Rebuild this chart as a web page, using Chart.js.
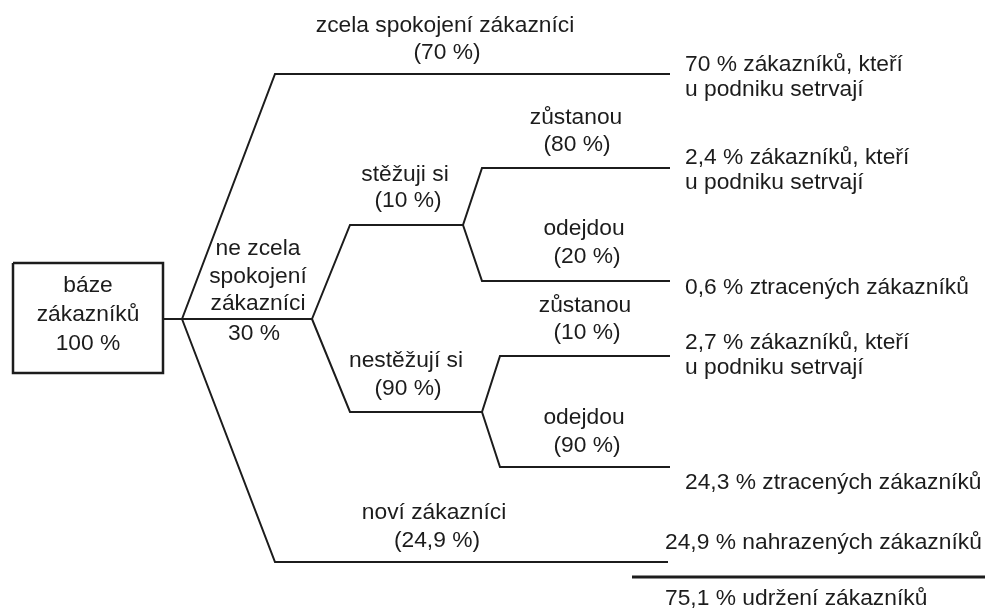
<!DOCTYPE html>
<html>
<head>
  <meta charset="utf-8" />
  <title>Báze zákazníků</title>
  <script src="https://cdn.jsdelivr.net/npm/chart.js@4/dist/chart.umd.min.js"></script>
  <style>
    body { margin: 0; background: #ffffff; }
    #wrap { width: 985px; height: 610px; position: relative; }
  </style>
</head>
<body>
  <div id="wrap"><canvas id="tree"></canvas></div>
  <script>
    // tree content
    const rootName = ['báze', 'zákazníků'];
    const rootShare = '100 %';
    const branchNames = [
      ['zcela spokojení zákazníci'],
      ['ne zcela', 'spokojení', 'zákazníci'],
      ['noví zákazníci'],
      ['stěžuji si'],
      ['nestěžují si'],
      ['zůstanou'],
      ['odejdou'],
      ['zůstanou'],
      ['odejdou']
    ];
    const branchShares = ['(70 %)', '30 %', '(24,9 %)', '(10 %)', '(90 %)', '(80 %)', '(20 %)', '(10 %)', '(90 %)'];
    const branchParents = [-1, -1, -1, 1, 1, 3, 3, 4, 4];   // -1 = báze
    const leafBranches = [0, 2, 5, 6, 7, 8];
    const outcomeTexts = [
      ['70 % zákazníků, kteří', 'u podniku setrvají'],
      ['24,9 % nahrazených zákazníků'],
      ['2,4 % zákazníků, kteří', 'u podniku setrvají'],
      ['0,6 % ztracených zákazníků'],
      ['2,7 % zákazníků, kteří', 'u podniku setrvají'],
      ['24,3 % ztracených zákazníků']
    ];
    const totalText = '75,1 % udržení zákazníků';

    // layout (in scale units, 1 unit = 1 px)
    const rootBox = [13, 263, 163, 373];
    const rootFork = [182, 319];
    const branchX0 = [275, 182, 275, 350, 350, 482, 482, 500, 500];
    const branchX1 = [670, 312, 668, 463, 482, 670, 670, 670, 670];
    const branchY = [74, 319, 562, 225, 412, 168, 281, 356, 467];
    const nameX = [445, 258, 434, 405, 406, 576, 584, 585, 584];
    const nameY = [32, 255, 519, 181, 367, 124, 235, 312, 424];
    const shareX = [447, 254, 437, 408, 408, 577, 587, 587, 587];
    const shareY = [59, 340, 547, 207, 395, 151, 263, 339, 452];
    const outcomeX = [685, 665, 685, 685, 685, 685];
    const outcomeY = [71, 549, 164, 294, 349, 489];
    const totalLine = [632, 985, 577];

    const FONT = '22.8px "Liberation Sans", Arial, sans-serif';
    const INK = '#1c1c1c';

    function endOf(i) {
      return i < 0 ? { x: rootFork[0], y: rootFork[1] } : { x: branchX1[i], y: branchY[i] };
    }

    var datasets = [];
    // root box and its stem
    datasets.push({
      data: [
        { x: rootBox[0], y: rootBox[1] }, { x: rootBox[2], y: rootBox[1] },
        { x: rootBox[2], y: rootBox[3] }, { x: rootBox[0], y: rootBox[3] },
        { x: rootBox[0], y: rootBox[1] }
      ],
      borderWidth: 2.5
    });
    datasets.push({
      data: [{ x: rootBox[2], y: rootFork[1] }, { x: rootFork[0], y: rootFork[1] }],
      borderWidth: 2
    });
    for (var i = 0; i < branchNames.length; i++) {
      datasets.push({
        data: [endOf(branchParents[i]), { x: branchX0[i], y: branchY[i] }, { x: branchX1[i], y: branchY[i] }],
        borderWidth: 2
      });
    }
    datasets.push({
      data: [{ x: totalLine[0], y: totalLine[2] }, { x: totalLine[1], y: totalLine[2] }],
      borderWidth: 3
    });
    datasets.forEach(d => {
      d.showLine = true;
      d.pointRadius = 0;
      d.borderColor = INK;
      d.tension = 0;
      d.fill = false;
      d.borderJoinStyle = 'miter';
    });

    const textPlugin = {
      id: 'treeText',
      afterDatasetsDraw(chart) {
        const ctx = chart.ctx, sx = chart.scales.x, sy = chart.scales.y;
        ctx.save();
        ctx.font = FONT;
        ctx.fillStyle = INK;
        ctx.textBaseline = 'alphabetic';

        ctx.textAlign = 'center';
        const cx = (rootBox[0] + rootBox[2]) / 2;
        [rootName[0], rootName[1], rootShare].forEach((t, k) => {
          ctx.fillText(t, sx.getPixelForValue(cx), sy.getPixelForValue(292 + k * 29));
        });

        for (var i = 0; i < branchNames.length; i++) {
          const lh = i === 1 ? 27.5 : 27;
          branchNames[i].forEach((t, k) => {
            ctx.fillText(t, sx.getPixelForValue(nameX[i]), sy.getPixelForValue(nameY[i] + k * lh));
          });
          ctx.fillText(branchShares[i], sx.getPixelForValue(shareX[i]), sy.getPixelForValue(shareY[i]));
        }

        ctx.textAlign = 'left';
        outcomeTexts.forEach((lines, j) => {
          lines.forEach((t, k) => {
            ctx.fillText(t, sx.getPixelForValue(outcomeX[j]), sy.getPixelForValue(outcomeY[j] + k * 25));
          });
        });
        ctx.fillText(totalText, sx.getPixelForValue(665), sy.getPixelForValue(605));
        ctx.restore();
      }
    };

    new Chart(document.getElementById('tree'), {
      type: 'scatter',
      data: { datasets: datasets },
      options: {
        responsive: true,
        maintainAspectRatio: false,
        animation: false,
        layout: { padding: 0 },
        scales: {
          x: { type: 'linear', min: 0, max: 985, display: false },
          y: { type: 'linear', min: 0, max: 610, reverse: true, display: false }
        },
        plugins: { legend: { display: false }, tooltip: { enabled: false } }
      },
      plugins: [textPlugin]
    });
  </script>
</body>
</html>
